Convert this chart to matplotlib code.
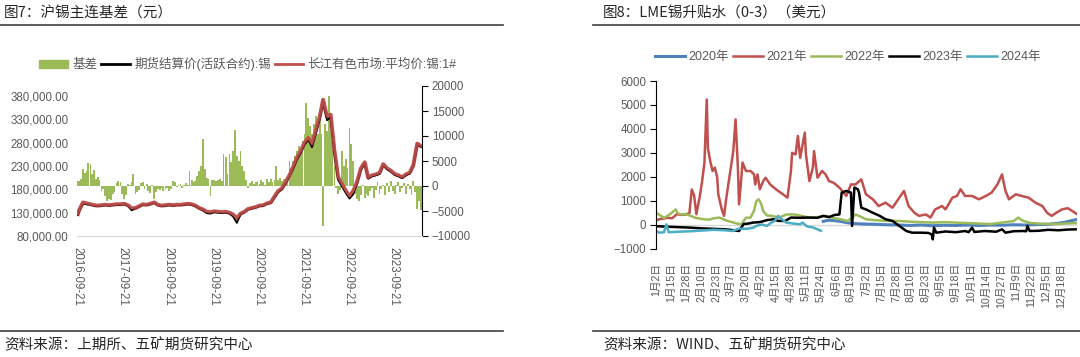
import numpy as np
import pandas as pd
import matplotlib.pyplot as plt
from matplotlib.lines import Line2D
from matplotlib.patches import Patch

plt.rcParams['font.family'] = ['Liberation Sans', 'Noto Sans CJK SC']

# ==========================================================
# 图7 数据：沪锡主连基差
# ==========================================================
# 月度价格（首点 2016-09-21，之后为每月1日）
price_red = [127000, 135000, 152000, 150000,
             148000, 146000, 145000, 146000, 147000, 146000, 147000, 148000, 148000, 149000, 146000, 139000,
             140000, 144000, 148000, 147000, 149000, 152000, 147000, 145000, 146000, 147000, 146000, 147000,
             147000, 148000, 149000, 148000, 145000, 140000, 137000, 132000, 131000, 133000, 132000, 131000,
             132000, 130000, 126000, 118000, 128000, 132000, 138000, 140000, 142000, 145000, 146000, 150000,
             152000, 165000, 176000, 182000, 195000, 210000, 228000, 248000, 262000, 280000, 290000, 277000,
             306000, 335000, 372000, 336000, 340000, 262000, 206000, 191000, 177000, 165000, 177000, 196000,
             225000, 238000, 205000, 210000, 212000, 215000, 234000, 225000, 220000, 213000, 210000, 206000,
             212000, 216000, 232000, 278000, 273000]
price_black = [125000, 133000, 150000, 148000,
               147000, 145000, 144000, 145000, 146000, 145000, 146000, 147000, 147000, 148000, 145000, 135000,
               139000, 143000, 147000, 146000, 148000, 151000, 146000, 144000, 145000, 146000, 145000, 146000,
               146000, 147000, 148000, 147000, 144000, 139000, 135000, 129000, 128000, 131000, 130000, 129000,
               130000, 128000, 122000, 108000, 126000, 131000, 137000, 139000, 141000, 144000, 145000, 149000,
               151000, 163000, 174000, 180000, 193000, 208000, 224000, 244000, 258000, 276000, 286000, 270000,
               300000, 330000, 368000, 328000, 334000, 255000, 200000, 186000, 172000, 160000, 170000, 193000,
               222000, 236000, 203000, 208000, 210000, 213000, 232000, 223000, 218000, 211000, 208000, 204000,
               210000, 214000, 230000, 276000, 271000]

# 半月基差（2016-09-15 起，每月1日和15日）
basis = [1000, 1000, 1500, 3400, 2600, 3000, 4700,
         4500, 2500, 3200, 1500, 1800, 1200, -900, -600, -2000, -2900, -2500, -2800,
         -1600, -1200, 600, 1000, 800, -1500, -2600, -1800, 500, 300, 800, 2400,
         -1500, -1200, -800, 700, 900, -600, 400, -900, -1300, 200, -2600, -1200,
         -500, -800, -400, -1000, -600, -300, -900, -500, 1000, 800, -200, 300,
         500, -400, 300, 600, 200, 3000, 1200, 800, 1000, 2000, 3000, 4000,
         9500, 3400, 1700, 1500, -1900, 1200, 1300, 1000, 1200, 1400, 1000, 6400,
         5800, 2500, 6400, 4800, 7000, 11200, 6000, 5000, 7000, 4000, 3000, 1200,
         -300, 600, 1000, 400, 800, 1000, 500, 1200, 900, 300, 1400, 800,
         1500, 900, 1300, 4000, 1200, 1700, 1000, 1500, 1200, 1600, 5000, 3700,
         5000, 6000, 7000, 8000, 7500, 9000, 10400, 16700, 13700, 12000, 10400, 12500,
         14000, 10400, 13700, 10400, -8000, 12400, 11000, 18000, 12000, 8000, 4000, -300,
         -1600, -800, 7000, 4000, 5500, 3700, 11700, 8400, 5000, -1600, -2500, -2900,
         -1800, 300, -2300, -1500, -2000, -1000, -300, -2300, -700, 800, -1500, -500,
         300, -1800, 600, -1200, 1000, -900, -1500, 200, 900, -1200, -400, 700,
         -1500, 500, -600, -1800, 1000, -1200, -4500, -3000, -4800]

left_ticks = ['2016-09-21', '2017-09-21', '2018-09-21', '2019-09-21',
              '2020-09-21', '2021-09-21', '2022-09-21', '2023-09-21']

# ==========================================================
# 图8 数据：LME锡升贴水（0-3），x 为距 1月2日 的天数
# ==========================================================
days_2020 = [145, 150, 155, 160, 165, 172, 180, 190, 200, 210, 220, 230, 240, 250, 260, 270,
             280, 290, 300, 310, 320, 330, 340, 350, 355, 360, 365]
lme_2020 = [150, 200, 180, 150, 100, 60, 40, 30, 10, 0, -20, 0, -30, -10, -20, 0,
            -20, 0, -10, 10, 0, 20, 30, 80, 120, 180, 230]

days_2021 = [0, 5, 10, 14, 18, 22, 26, 29, 31, 33, 35, 38, 40, 42, 44, 45, 47, 49, 51, 53, 54,
             57, 59, 61, 64, 67, 69, 71, 72, 74, 75, 78, 82, 85, 86, 88, 90, 93, 95, 99, 104,
             110, 114, 117, 118, 121, 123, 125, 129, 130, 133, 136, 137, 140, 144, 147, 150,
             154, 159, 165, 169, 173, 178, 182, 188, 193, 199, 205, 211, 215, 219, 224, 228,
             234, 238, 242, 248, 251, 257, 261, 264, 268, 274, 280, 286, 291, 296, 300, 303,
             306, 312, 317, 323, 329, 335, 339, 343, 347, 352, 357, 362, 365]
lme_2021 = [200, 260, 300, 280, 450, 420, 440, 500, 1480, 1250, 450, 1200, 1830, 2600, 5230, 3200,
            2670, 2250, 2390, 2000, 1280, 650, 380, 1140, 2110, 3080, 4400, 2390, 860, 1970, 2600,
            2250, 2250, 2110, 1690, 2110, 1490, 1830, 1970, 1690, 1490, 1280, 1140, 2250, 3010,
            2940, 3710, 2800, 3850, 2940, 1830, 2390, 3080, 1970, 2250, 2110, 1830, 1760, 1560,
            1210, 1690, 1690, 1900, 1280, 1070, 790, 930, 720, 1140, 1420, 790, 510, 380, 440,
            310, 650, 790, 650, 1140, 1210, 1490, 1210, 1210, 1070, 1210, 1350, 1690, 2110, 1420,
            1070, 1280, 1210, 1140, 930, 790, 510, 380, 510, 650, 700, 550, 450]

days_2022 = [0, 3, 7, 10, 14, 17, 19, 22, 26, 30, 34, 40, 46, 50, 55, 58, 62, 66, 70, 74, 78,
             82, 85, 87, 89, 91, 93, 96, 100, 107, 113, 120, 126, 133, 140, 147, 153, 160, 166,
             170, 173, 176, 182, 190, 200, 210, 220, 230, 240, 250, 260, 270, 280, 290, 300, 306,
             310, 314, 318, 325, 335, 345, 355, 365]
lme_2022 = [520, 420, 300, 380, 520, 650, 480, 440, 450, 380, 300, 250, 220, 280, 310, 250, 170,
            120, 60, 30, 300, 310, 600, 1000, 1070, 900, 580, 400, 380, 310, 440, 440, 380, 310,
            330, 380, 300, 240, 170, 300, 440, 380, 240, 200, 170, 170, 140, 120, 100, 120, 100,
            80, 60, 40, 100, 140, 160, 310, 180, 80, 50, 40, 60, 80]

days_2023 = [0, 10, 20, 30, 40, 50, 60, 66, 72, 76, 80, 84, 90, 96, 102, 106, 112, 117, 125, 132,
             140, 145, 150, 155, 159, 161, 165, 169, 170, 172, 175, 176, 178, 182, 188, 194, 199,
             205, 211, 217, 222, 230, 236, 239, 240, 241, 243, 251, 260, 268, 271, 274, 276, 285,
             295, 300, 303, 310, 318, 321, 322, 324, 332, 340, 349, 357, 365]
lme_2023 = [-50, -70, -90, -110, -140, -160, -180, -210, -250, 40, 60, 100, 120, 200, 240, 170,
            170, 310, 300, 310, 300, 380, 330, 420, 440, 1350, 1420, 1350, -40, 1560, 1490, 1350,
            720, 650, 510, 380, 240, 170, -40, -250, -320, -320, -330, -390, -600, -110, -320,
            -270, -300, -250, -300, -110, -290, -250, -280, -180, -320, -260, -250, -260, -40,
            -250, -240, -200, -220, -190, -180]

days_2024 = [0, 3, 7, 9, 11, 20, 30, 40, 50, 60, 66, 72, 78, 84, 88, 92, 96, 100, 103, 106, 109,
             113, 119, 125, 127, 131, 136, 140, 143]
lme_2024 = [-250, -320, -300, 30, -300, -280, -260, -230, -200, -220, -250, -150, -160, -120,
            -20, 20, -40, 100, 170, 380, 240, 100, 60, 30, 100, -60, -100, -180, -240]

right_labels = ['1月2日', '1月15日', '1月28日', '2月10日', '2月23日', '3月7日', '3月20日',
                '4月2日', '4月15日', '4月28日', '5月11日', '5月24日', '6月6日', '6月19日',
                '7月2日', '7月15日', '7月28日', '8月10日', '8月23日', '9月5日', '9月18日',
                '10月1日', '10月14日', '10月27日', '11月9日', '11月22日', '12月5日', '12月18日']

GRAY = '#595959'
W, H = 1080, 357

fig = plt.figure(figsize=(W / 100, H / 100), dpi=100)

def fx(px):
    return px / W

def fy(py):
    return 1 - py / H

# ==========================================================
# 图7
# ==========================================================
price_dates = pd.DatetimeIndex([pd.Timestamp('2016-09-21')]).append(
    pd.date_range('2016-10-01', '2024-05-01', freq='MS'))
basis_dates = pd.date_range('2016-09-15', '2024-05-01', freq='SMS')

ax = fig.add_axes([fx(77), fy(236), fx(422 - 77), 150 / H])
ax2 = ax.twinx()

# 基差柱（右轴）
ax.bar(basis_dates, basis, width=15, color='#9BBB59', linewidth=0)
ax.set_ylim(-10000, 20000)
ax.set_yticks(range(-10000, 20001, 5000))
ax.yaxis.tick_right()
ax.tick_params(axis='y', direction='out', length=4, color='black', labelcolor=GRAY,
               labelsize=8.3, pad=3)
for s in ['left', 'top']:
    ax.spines[s].set_visible(False)
ax.spines['right'].set_color('black')
ax.spines['bottom'].set_color('#D9D9D9')
ax.set_xlim(pd.Timestamp('2016-09-14'), pd.Timestamp('2024-05-10'))
ax.set_xticks(pd.to_datetime(left_ticks))
ax.set_xticklabels(left_ticks, rotation=-90, va='top', ha='center')
ax.tick_params(axis='x', length=0, labelcolor=GRAY, labelsize=8.3, pad=8)

# 价格线（左轴）
ax2.plot(price_dates, price_red, color='#C0504D', lw=2.8)
ax2.plot(price_dates, price_black, color='black', lw=1.3)
ax2.plot(price_dates, price_red, color='#C0504D', lw=1.8, alpha=0.9)
ax2.set_ylim(80000, 401400)
ax2.set_yticks(range(80000, 380001, 50000))
ax2.yaxis.tick_left()
ax2.yaxis.set_major_formatter(lambda v, p: f'{v:,.2f}')
ax2.tick_params(axis='y', length=0, labelcolor=GRAY, labelsize=8.3, pad=6)
for s in ax2.spines.values():
    s.set_visible(False)

h1 = [Patch(color='#9BBB59'), Line2D([], [], color='black', lw=2),
      Line2D([], [], color='#C0504D', lw=2)]
fig.legend(h1, ['基差', '期货结算价(活跃合约):锡', '长江有色市场:平均价:锡:1#'],
           loc='center', bbox_to_anchor=(fx(248), fy(64)), ncol=3, frameon=False,
           fontsize=9, labelcolor=GRAY, handlelength=2.3, handleheight=0.6,
           handletextpad=0.35, columnspacing=0.3)

# ==========================================================
# 图8
# ==========================================================
axr = fig.add_axes([fx(656), fy(249), fx(1077 - 656), 168 / H])
axr.axhline(0, color='#D9D9D9', lw=1, zorder=1)
axr.plot(days_2020, lme_2020, color='#4F81BD', lw=2.2, label='2020年')
axr.plot(days_2021, lme_2021, color='#C0504D', lw=1.8, label='2021年')
axr.plot(days_2022, lme_2022, color='#9BBB59', lw=1.8, label='2022年')
axr.plot(days_2023, lme_2023, color='black', lw=1.8, label='2023年')
axr.plot(days_2024, lme_2024, color='#4BACC6', lw=1.8, label='2024年')
axr.set_xlim(0, 365)
axr.set_ylim(-1000, 6000)
axr.set_yticks(range(-1000, 6001, 1000))
axr.set_xticks(np.arange(0, 352, 13))
axr.set_xticklabels(right_labels, rotation=90, va='top', ha='center')
axr.tick_params(axis='x', length=0, labelcolor=GRAY, labelsize=7.7, pad=10)
axr.tick_params(axis='y', direction='out', length=4, color='black', labelcolor=GRAY,
                labelsize=8.3, pad=3)
for s in ['right', 'top', 'bottom']:
    axr.spines[s].set_visible(False)
axr.spines['left'].set_color('black')

fig.legend(*axr.get_legend_handles_labels(), loc='center',
           bbox_to_anchor=(fx(848), fy(57)), ncol=5, frameon=False, fontsize=9,
           labelcolor=GRAY, handlelength=2.4, handletextpad=0.3, columnspacing=0.3)

# ==========================================================
# 标题、分隔线、资料来源
# ==========================================================
fig.text(fx(4), fy(13), '图7：沪锡主连基差（元）', fontsize=10.5, color='#262626',
         va='center', family=['Noto Sans CJK SC'])
fig.text(fx(603), fy(13), '图8：LME锡升贴水（0-3）（美元）', fontsize=10.5, color='#262626',
         va='center', family=['Noto Sans CJK SC'])
fig.text(fx(4), fy(345), '资料来源：上期所、五矿期货研究中心', fontsize=10.5, color='#262626',
         va='center', family=['Noto Sans CJK SC'])
fig.text(fx(603), fy(345), '资料来源：WIND、五矿期货研究中心', fontsize=10.5, color='#262626',
         va='center', family=['Noto Sans CJK SC'])

for x0, x1 in [(0, 503), (593, 1080)]:
    for y in [25, 331]:
        fig.add_artist(Line2D([fx(x0), fx(x1)], [fy(y), fy(y)], color='#404040', lw=1.2))

fig.savefig('out.png', dpi=100)
